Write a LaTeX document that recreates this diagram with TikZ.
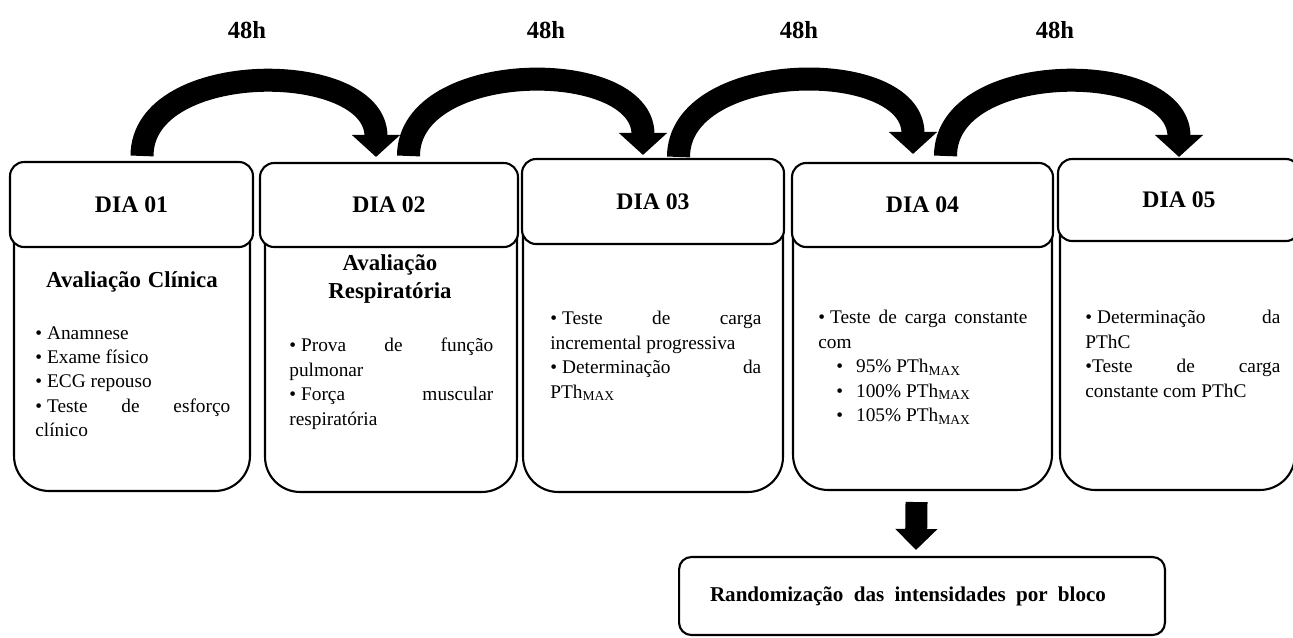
\documentclass[tikz,border=0pt]{standalone}
\usepackage{fontspec}
\setmainfont{Liberation Serif}
\usetikzlibrary{arrows.meta}

\tikzset{
  dayhead/.style={draw, line width=1.2pt, rounded corners=8pt, fill=white, inner sep=0pt,
    font=\bfseries\fontsize{13.5}{16}\selectfont},
  daybody/.style={draw, line width=1.2pt, rounded corners=20pt, inner sep=0pt},
  daytext/.style={anchor=north west, inner sep=0pt, align=justify,
    font=\fontsize{11}{13.9}\selectfont},
  daytitle/.style={inner sep=0pt, align=center, font=\bfseries\fontsize{13}{15.9}\selectfont},
  gaplabel/.style={inner sep=0pt, font=\bfseries\fontsize{14}{16}\selectfont},
  hop/.style={line width=0.46cm, -{Triangle[width=0.94cm, length=0.44cm]}},
  drop/.style={line width=0.44cm, -{Triangle[width=0.82cm, length=0.42cm]}},
}
\newcommand{\pthmax}{PTh\textsubscript{MAX}}
\newcommand{\bul}{\textbullet\hspace{0.1cm}}
\newcommand{\subbul}{\hspace*{0.36cm}\textbullet\hspace{0.26cm}}

\begin{document}
\begin{tikzpicture}[x=0.02cm, y=-0.02cm]
  \useasboundingbox (0,0) rectangle (1293,637);
  \clip (0,0) rectangle (1293,637);

  % day boxes: body first, header on top
  \node[daybody, minimum width=4.72cm, minimum height=6.32cm] (b1) at (132,333) {};
  \node[dayhead, minimum width=4.86cm, minimum height=1.70cm] (h1) at (131.5,204.5) {DIA 01};
  \node[daybody, minimum width=5.04cm, minimum height=6.34cm] (b2) at (391,333.5) {};
  \node[dayhead, minimum width=5.16cm, minimum height=1.68cm] (h2) at (389,205) {DIA 02};
  \node[daybody, minimum width=5.20cm, minimum height=6.44cm] (b3) at (653,331) {};
  \node[dayhead, minimum width=5.24cm, minimum height=1.70cm] (h3) at (653,201.5) {DIA 03};
  \node[daybody, minimum width=5.18cm, minimum height=6.30cm] (b4) at (922.5,332.5) {};
  \node[dayhead, minimum width=5.22cm, minimum height=1.68cm] (h4) at (922.5,205) {DIA 04};
  \node[daybody, minimum width=4.70cm, minimum height=6.40cm] (b5) at (1177.5,330) {};
  \node[dayhead, minimum width=4.84cm, minimum height=1.64cm] (h5) at (1179,200) {DIA 05};

  % contents
  \node[daytitle] (c1) at (132,282) {Avaliação\hspace{0.14cm}Clínica};
  \node[daytitle] (c2) at (390,279) {Avaliação\\Respiratória};
  \node[daytext, text width=3.9cm] (t1) at (35,326)
    {\bul Anamnese\\ \bul Exame físico\\ \bul ECG repouso\\
     \bul Teste de esforço\linebreak clínico};
  \node[daytext, text width=4.08cm] (t2) at (289,338)
    {\bul Prova de função\linebreak pulmonar\\
     \bul Força muscular\linebreak respiratória};
  \node[daytext, text width=4.22cm] (t3) at (550,311)
    {\bul Teste de carga\linebreak incremental progressiva\\
     \bul Determinação da\linebreak \pthmax};
  \node[daytext, text width=4.18cm] (t4) at (818,310)
    {\bul Teste de carga constante\linebreak com\\
     \subbul 95\% \pthmax\\
     \subbul 100\% \pthmax\\
     \subbul 105\% \pthmax};
  \node[daytext, text width=3.9cm] (t5) at (1085,310)
    {\bul Determinação da\linebreak PThC\\
     \textbullet Teste de carga\linebreak constante com PThC};

  \node[draw, line width=1.2pt, rounded corners=7pt, minimum width=9.72cm, minimum height=1.56cm,
    font=\bfseries\fontsize{12}{14}\selectfont] (rand) at (922,596)
    {Randomização\hspace{0.1cm} das\hspace{0.1cm} intensidades\hspace{0.1cm} por\hspace{0.1cm} bloco\hspace*{0.56cm}};

  % 48h gaps
  \node[gaplabel] (g1) at (247,30) {48h};
  \node[gaplabel] (g2) at (546,30) {48h};
  \node[gaplabel] (g3) at (799,30) {48h};
  \node[gaplabel] (g4) at (1055,30) {48h};

  \draw[hop] ([xshift=0.21cm, yshift=0.1cm]h1.north) .. controls +(0,-98) and +(0,-98) .. ([xshift=-0.26cm, yshift=0.1cm]h2.north);
  \draw[hop] ([xshift=0.39cm, yshift=0.12cm]h2.north) .. controls +(0,-98) and +(0,-98) .. ([xshift=-0.2cm, yshift=0.06cm]h3.north);
  \draw[hop] ([xshift=0.51cm, yshift=0.02cm]h3.north) .. controls +(0,-98) and +(0,-98) .. ([xshift=-0.19cm, yshift=0.16cm]h4.north);
  \draw[hop] ([xshift=0.46cm, yshift=0.12cm]h4.north) .. controls +(0,-98) and +(0,-98) .. ([yshift=0.02cm]h5.north);

  \draw[drop] ([xshift=-0.12cm, yshift=-0.22cm]b4.south) -- ([xshift=-0.12cm, yshift=0.12cm]rand.north);
\end{tikzpicture}
\end{document}
